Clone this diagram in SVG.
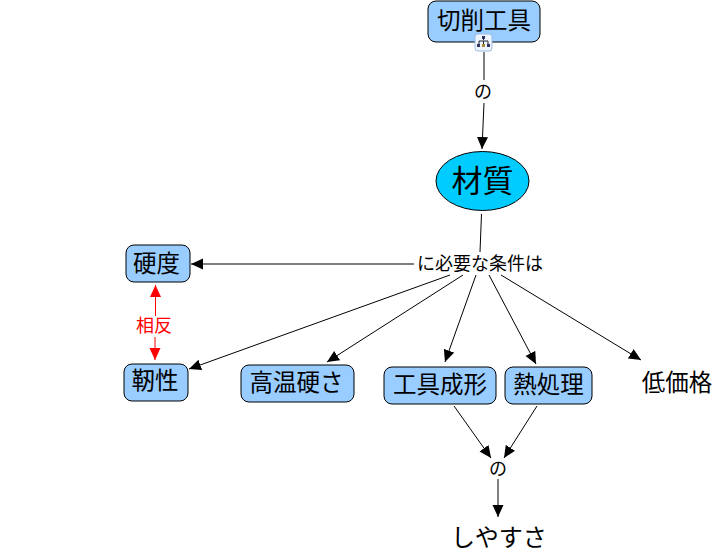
<svg xmlns="http://www.w3.org/2000/svg" width="723" height="559" viewBox="0 0 723 559">
<style>
text{font-family:"Noto Sans CJK JP","Noto Sans",sans-serif;text-anchor:middle;fill:#000}
.b{fill:#99ccff;stroke:#000;stroke-width:1}
.c{fill:none;stroke:#000;stroke-width:1}
.l{font-size:23.500px}
.s{font-size:18px}
</style>
<defs>
<marker id="a" markerUnits="userSpaceOnUse" markerWidth="14" markerHeight="12" refX="12" refY="5.500" orient="auto"><path d="M0 0L12 5.500L0 11Z" fill="#000"/></marker>
<marker id="r" markerUnits="userSpaceOnUse" markerWidth="14" markerHeight="12" refX="12" refY="5.500" orient="auto"><path d="M0 0L12 5.500L0 11Z" fill="#f00"/></marker>
</defs>
<rect width="723" height="559" fill="#fff"/>
<g id="connectors">
<path class="c" d="M484 52V80"/>
<path class="c" marker-end="url(#a)" d="M484 103L482 149"/>
<path class="c" d="M481.500 214L480 252"/>
<path class="c" marker-end="url(#a)" d="M414 264H191"/>
<path class="c" marker-end="url(#a)" d="M450 275L189 369"/>
<path class="c" marker-end="url(#a)" d="M463 275L327 362"/>
<path class="c" marker-end="url(#a)" d="M476 275L445 362"/>
<path class="c" marker-end="url(#a)" d="M489 275L536 364"/>
<path class="c" marker-end="url(#a)" d="M501 275L641 360"/>
<path class="c" marker-end="url(#a)" d="M454 406L491 458"/>
<path class="c" marker-end="url(#a)" d="M537 406L504 458"/>
<path class="c" marker-end="url(#a)" d="M498 479V517"/>
<path fill="none" stroke="#f00" marker-end="url(#r)" d="M155.500 316V285"/>
<path fill="none" stroke="#f00" marker-end="url(#r)" d="M155 337V360"/>
</g>
<g id="n1"><rect class="b" x="428" y="1" width="112" height="41" rx="8"/><text class="l" x="484" y="29">切削工具</text>
<g id="n1-icon"><rect x="475" y="34" width="17" height="17" rx="3" fill="#eef5ff" stroke="#9bbce0"/><path d="M483.500 37V40M479 44V41H488V44M483.500 41V44" fill="none" stroke="#223" stroke-width="1"/><rect x="482" y="36" width="3" height="3" fill="#336"/><rect x="477" y="44" width="3" height="3" fill="#336"/><rect x="482" y="44" width="3" height="3" fill="#a83"/><rect x="487" y="44" width="3" height="3" fill="#336"/></g></g>
<g id="n2"><ellipse cx="482.500" cy="181" rx="46.500" ry="29.500" fill="#00ccff" stroke="#000"/><text x="482.500" y="192" style="font-size:31px">材質</text></g>
<g id="n3"><rect class="b" x="126" y="245" width="64" height="37" rx="8"/><text class="l" x="156.500" y="272">硬度</text></g>
<g id="n4"><rect class="b" x="124" y="364" width="64" height="37" rx="8"/><text class="l" x="155" y="389">靭性</text></g>
<g id="n5"><rect class="b" x="241" y="365" width="113" height="37" rx="8"/><text class="l" x="296.500" y="391">高温硬さ</text></g>
<g id="n6"><rect class="b" x="384" y="367" width="112" height="37" rx="8"/><text class="l" x="440" y="393">工具成形</text></g>
<g id="n7"><rect class="b" x="505" y="367" width="87" height="37" rx="8"/><text class="l" x="548.500" y="393">熱処理</text></g>
<g id="n8"><text class="l" x="677" y="391">低価格</text></g>
<g id="n9"><text x="499" y="546" style="font-size:24px">しやすさ</text></g>
<g id="l1"><text class="s" x="483" y="98">の</text></g>
<g id="l2"><text class="s" x="480" y="270">に必要な条件は</text></g>
<g id="l3"><text class="s" x="498" y="475">の</text></g>
<g id="l4"><text x="154" y="332" style="font-size:18px;fill:#f00">相反</text></g>
</svg>
